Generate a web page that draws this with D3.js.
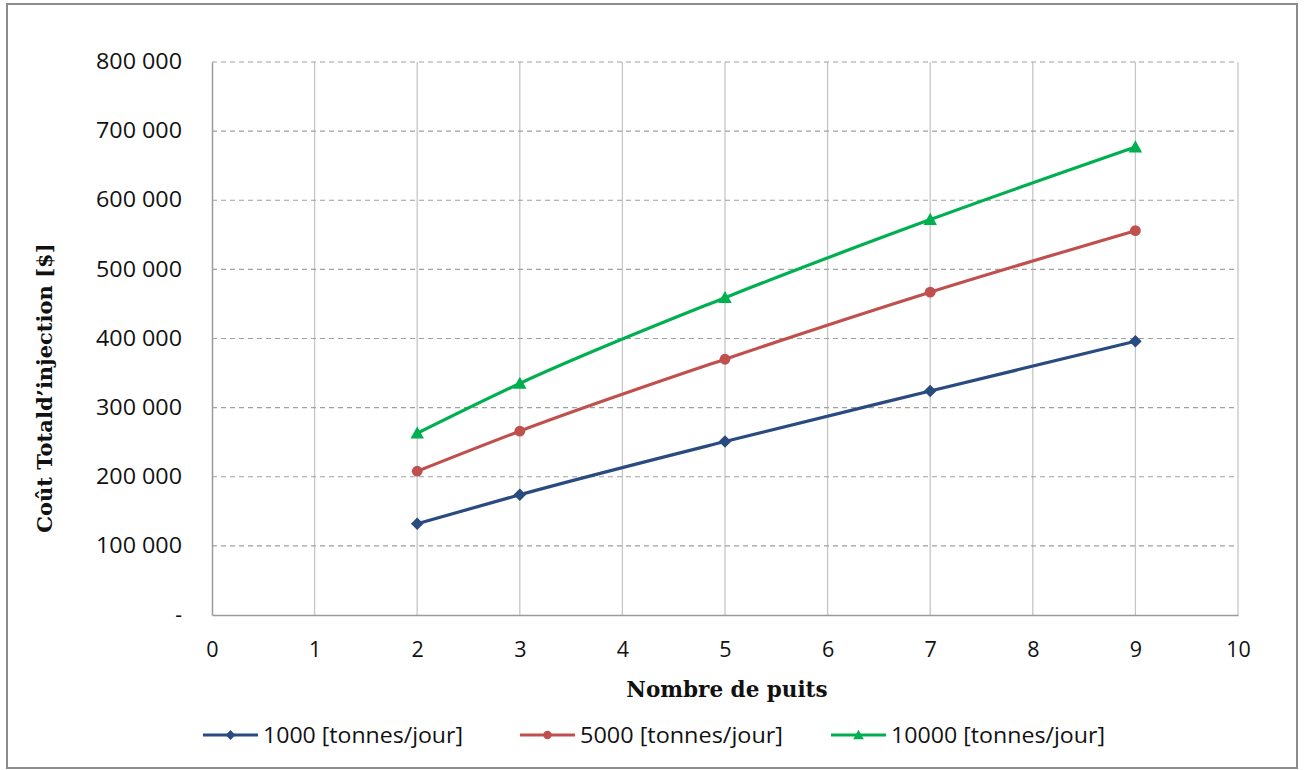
<!DOCTYPE html>
<html>
<head>
<meta charset="utf-8">
<script src="https://cdn.jsdelivr.net/npm/d3@7"></script>
<style>
  html, body { margin: 0; padding: 0; background: #fff; }
  svg { display: block; }
</style>
</head>
<body>
<div id="chart"></div>
<script>
// Number of wells (x) and total injection cost [$] for each daily tonnage
const wells = [2, 3, 5, 7, 9];
const cost1000 = [132000, 174000, 251000, 324000, 396000];
const cost5000 = [208000, 266000, 370000, 467000, 556000];
const cost10000 = [263000, 335000, 459000, 572000, 677000];
const seriesNames = ["1000 [tonnes/jour]", "5000 [tonnes/jour]", "10000 [tonnes/jour]"];
const xTicks = [0, 1, 2, 3, 4, 5, 6, 7, 8, 9, 10];
const yTicks = [0, 100000, 200000, 300000, 400000, 500000, 600000, 700000, 800000];

const W = 1304, H = 770;
const margin = { top: 62, right: 66, bottom: 155, left: 212 };
const iw = W - margin.left - margin.right;
const ih = H - margin.top - margin.bottom;

const series = [
  { name: seriesNames[0], values: cost1000, color: "#2A4B80", marker: "diamond" },
  { name: seriesNames[1], values: cost5000, color: "#C0504D", marker: "circle" },
  { name: seriesNames[2], values: cost10000, color: "#00B050", marker: "triangle" }
];

const svg = d3.select("#chart").append("svg").attr("width", W).attr("height", H);

// chart frame
svg.append("rect").attr("x", 7).attr("y", 4).attr("width", 1290).attr("height", 764)
  .attr("fill", "#fff").attr("stroke", "#8c8c8c").attr("stroke-width", 2);

const g = svg.append("g").attr("transform", `translate(${margin.left},${margin.top})`);

const x = d3.scaleLinear().domain([0, 10]).range([0, iw]);
const y = d3.scaleLinear().domain([0, 800000]).range([ih, 0]);

// vertical gridlines (solid)
g.append("g").selectAll("line").data(xTicks.filter(d => d > 0)).join("line")
  .attr("x1", d => x(d)).attr("x2", d => x(d)).attr("y1", 0).attr("y2", ih)
  .attr("stroke", "#c6c6c6").attr("stroke-width", 1.3);

// horizontal gridlines (dashed)
g.append("g").selectAll("line").data(yTicks.filter(d => d > 0)).join("line")
  .attr("x1", 0).attr("x2", iw).attr("y1", d => y(d)).attr("y2", d => y(d))
  .attr("stroke", "#a0a0a0").attr("stroke-width", 1.2).attr("stroke-dasharray", "5,4");

// axes
const tickFont = "'Open Sans', sans-serif";
const fmt = d => d === 0 ? "-" : d3.format(",")(d).replace(/,/g, " ");
const yAxis = g.append("g").call(d3.axisLeft(y).tickValues(yTicks).tickFormat(fmt).tickSize(0).tickPadding(30));
yAxis.select(".domain").attr("stroke", "#9a9a9a").attr("stroke-width", 1.5);
yAxis.selectAll("text").attr("font-family", tickFont).attr("font-size", 21).attr("fill", "#111")
  .attr("textLength", d => d === 0 ? null : 86).attr("lengthAdjust", "spacingAndGlyphs");

const xAxis = g.append("g").attr("transform", `translate(0,${ih})`)
  .call(d3.axisBottom(x).tickValues(xTicks).tickFormat(d3.format("d")).tickSize(0).tickPadding(27));
xAxis.select(".domain").attr("stroke", "#9a9a9a").attr("stroke-width", 1.5);
xAxis.selectAll("text").attr("font-family", tickFont).attr("font-size", 21.5).attr("fill", "#111");

// axis titles
svg.append("text").attr("x", margin.left + iw / 2 + 2).attr("y", 697)
  .attr("text-anchor", "middle").attr("font-family", "'DejaVu Serif', serif")
  .attr("font-weight", "bold").attr("font-size", 21.5).attr("fill", "#111")
  .text("Nombre de puits");

svg.append("text").attr("transform", "translate(52,388) rotate(-90)")
  .attr("text-anchor", "middle").attr("font-family", "'DejaVu Serif', serif")
  .attr("font-weight", "bold").attr("font-size", 21).attr("fill", "#111")
  .text("Coût Totald’injection [$]");

// markers
function drawMarker(sel, type, color, size) {
  if (type === "circle") {
    sel.append("circle").attr("r", size * 0.6).attr("fill", color);
  } else if (type === "diamond") {
    const s = size * 0.7;
    sel.append("path").attr("d", `M0,${-s}L${s},0L0,${s}L${-s},0Z`).attr("fill", color);
  } else {
    const s = size * 0.75;
    sel.append("path").attr("d", `M0,${-s}L${s},${s * 0.8}L${-s},${s * 0.8}Z`).attr("fill", color);
  }
}

const line = d3.line().x(d => x(d[0])).y(d => y(d[1])).curve(d3.curveMonotoneX);

series.forEach(s => {
  const pts = wells.map((w, i) => [w, s.values[i]]);
  g.append("path").datum(pts).attr("d", line).attr("fill", "none")
    .attr("stroke", s.color).attr("stroke-width", 3.2);
  pts.forEach(p => {
    const m = g.append("g").attr("transform", `translate(${x(p[0])},${y(p[1])})`);
    drawMarker(m, s.marker, s.color, 9);
  });
});

// legend
const legendX = [203, 520, 831];
const legendW = [200, 203, 214];
series.forEach((s, i) => {
  const lg = svg.append("g").attr("transform", `translate(${legendX[i]},735)`);
  lg.append("line").attr("x1", 0).attr("x2", 55).attr("y1", 0).attr("y2", 0)
    .attr("stroke", s.color).attr("stroke-width", 3.2);
  const m = lg.append("g").attr("transform", "translate(27.5,0)");
  drawMarker(m, s.marker, s.color, 7);
  lg.append("text").attr("x", 60).attr("y", 8).attr("font-family", tickFont)
    .attr("font-size", 21).attr("fill", "#111")
    .attr("textLength", legendW[i]).attr("lengthAdjust", "spacingAndGlyphs")
    .text(s.name);
});
</script>
</body>
</html>
